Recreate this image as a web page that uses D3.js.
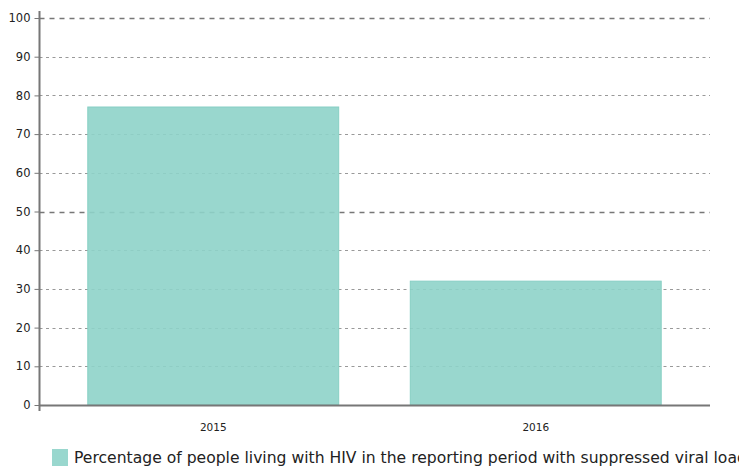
<!DOCTYPE html>
<html>
<head>
<meta charset="utf-8">
<script src="https://cdn.jsdelivr.net/npm/d3@7"></script>
<style>
  body { margin: 0; background: #fff; }
  svg { display: block; font-family: "DejaVu Sans", sans-serif; }
</style>
</head>
<body>
<svg id="chart" width="739" height="466"></svg>
<script>
// Data
const categories = ['2015', '2016'];
const values = [77, 32];
const yTicks = [0, 10, 20, 30, 40, 50, 60, 70, 80, 90, 100];
const majorTicks = [50, 100];
const legendLabel = 'Percentage of people living with HIV in the reporting period with suppressed viral load';

const svg = d3.select('#chart');

const plotLeft = 39.5, plotRight = 710, plotTop = 18, plotBottom = 405;

const x = d3.scaleBand()
    .domain(categories)
    .range([52, 697])
    .paddingInner(0.222)
    .paddingOuter(0.111);

const y = d3.scaleLinear()
    .domain([0, 100])
    .range([plotBottom, plotTop]);

// Gridlines
svg.append('g')
    .selectAll('line')
    .data(yTicks.filter(d => d > 0))
    .join('line')
    .attr('x1', plotLeft)
    .attr('x2', plotRight)
    .attr('y1', d => Math.round(y(d)) + 0.5)
    .attr('y2', d => Math.round(y(d)) + 0.5)
    .attr('stroke', d => majorTicks.includes(d) ? '#777' : '#999')
    .attr('stroke-width', d => majorTicks.includes(d) ? 1.6 : 1)
    .attr('stroke-dasharray', d => majorTicks.includes(d) ? '5,5' : '3,3.5');

// Bars
svg.append('g')
    .selectAll('rect')
    .data(values)
    .join('rect')
    .attr('x', (d, i) => x(categories[i]))
    .attr('y', d => y(d))
    .attr('width', x.bandwidth())
    .attr('height', d => plotBottom - y(d))
    .attr('fill', '#8ed3c9')
    .attr('fill-opacity', 0.9)
    .attr('stroke', '#86cfc4')
    .attr('stroke-width', 1);

// Y axis
const yAxis = svg.append('g')
    .attr('transform', `translate(${plotLeft},0)`)
    .call(d3.axisLeft(y).tickValues(yTicks).tickSize(5).tickPadding(4));
yAxis.select('.domain').remove();
yAxis.selectAll('.tick line').attr('stroke', '#777');
yAxis.selectAll('.tick text')
    .attr('font-size', 11.5)
    .attr('font-family', '"DejaVu Sans", sans-serif')
    .attr('fill', '#222');
svg.append('line')
    .attr('x1', plotLeft).attr('x2', plotLeft)
    .attr('y1', 11).attr('y2', 411)
    .attr('stroke', '#777').attr('stroke-width', 2);

// X axis
svg.append('line')
    .attr('x1', plotLeft).attr('x2', plotRight)
    .attr('y1', plotBottom + 0.5).attr('y2', plotBottom + 0.5)
    .attr('stroke', '#777').attr('stroke-width', 2);
svg.append('g')
    .selectAll('text')
    .data(categories)
    .join('text')
    .attr('x', d => x(d) + x.bandwidth() / 2)
    .attr('y', 431)
    .attr('text-anchor', 'middle')
    .attr('font-size', 10.5)
    .attr('fill', '#222')
    .text(d => d);

// Legend
svg.append('rect')
    .attr('x', 52).attr('y', 449)
    .attr('width', 16).attr('height', 17)
    .attr('fill', '#8ed3c9').attr('fill-opacity', 0.9);
svg.append('text')
    .attr('x', 74).attr('y', 462.5)
    .attr('font-size', 15.6)
    .attr('fill', '#222')
    .text(legendLabel);
</script>
</body>
</html>
